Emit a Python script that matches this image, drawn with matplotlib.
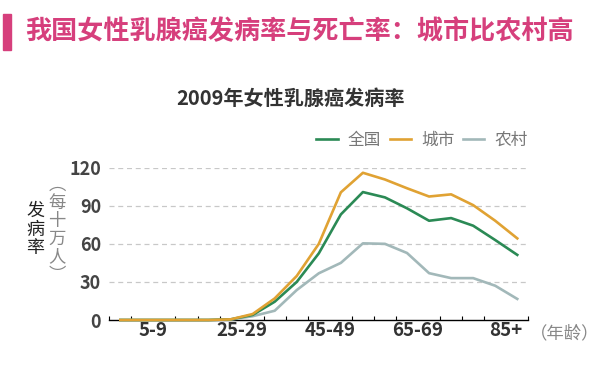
import numpy as np
import matplotlib.pyplot as plt

plt.rcParams['font.family'] = ['Noto Sans CJK SC', 'DejaVu Sans']

### Data (2009, per 100k)
age_groups = ["0", "1-4", "5-9", "10-14", "15-19", "20-24", "25-29", "30-34",
              "35-39", "40-44", "45-49", "50-54", "55-59", "60-64", "65-69",
              "70-74", "75-79", "80-84", "85+"]
national = [0, 0, 0, 0, 0, 0.5, 4, 14.4, 30, 52.5, 83.2, 100.8, 96.6, 88,
            78.2, 80.3, 74.3, 63, 51.3]
urban = [0, 0, 0, 0, 0, 0.5, 4.7, 17, 34.7, 60, 100.6, 116, 110.7, 103.8,
         97.3, 99, 90.5, 78.2, 64.3]
rural = [0, 0, 0, 0, 0, 0.3, 3, 7.3, 23.6, 36.8, 45, 60.4, 60, 52.8, 36.9,
         33, 33, 27, 16.6]
series_names = ["全国", "城市", "农村"]
tick_labels = ["5-9", "25-29", "45-49", "65-69", "85+"]
yticks = [0, 30, 60, 90, 120]

colors = ["#2b8a55", "#e0a233", "#a2b8b9"]
W, H = 600, 369

fig = plt.figure(figsize=(6, 3.69), dpi=100)
ax = fig.add_axes([109.3 / W, 49 / H, (528.3 - 109.3) / W, (201.3 - 49) / H])

x = np.arange(len(age_groups))
for vals, name, c, z in zip([national, urban, rural], series_names, colors, [4, 5, 3]):
    ax.plot(x, vals, color=c, lw=1.9, label=name, zorder=z, clip_on=False)

ax.set_xlim(-0.5, len(age_groups) - 0.5)
ax.set_ylim(0, 120)

# category boundary ticks
ax.set_xticks(np.arange(-0.5, len(age_groups)), minor=True)
ax.tick_params(axis='x', which='minor', direction='in', length=3, width=0.8, color='black')
ax.set_xticks([age_groups.index(l) - 0.5 for l in tick_labels])
ax.set_xticklabels(tick_labels, fontsize=13.5, fontweight='bold', color='#333333')
ax.tick_params(axis='x', which='major', length=0, pad=1)

ax.set_yticks(yticks)
ax.set_yticklabels([str(v) for v in yticks], fontsize=13, fontweight='bold', color='#444444')
ax.tick_params(axis='y', length=0, pad=6)
for v in yticks[1:]:
    ax.axhline(v, color='#c8c8c8', lw=0.9, ls=(0, (4, 3)), zorder=1)

for s in ['top', 'right', 'left']:
    ax.spines[s].set_visible(False)
ax.spines['bottom'].set_color('black')
ax.spines['bottom'].set_linewidth(1.0)

### Titles and labels
fig.patches.append(plt.Rectangle((3 / W, 1 - 50 / H), 8 / W, 36 / H,
                                 transform=fig.transFigure, color='#d63f7c'))
fig.text(25 / W, 1 - 32 / H, "我国女性乳腺癌发病率与死亡率：城市比农村高",
         fontsize=18.8, fontweight='bold', color='#d63f7c', va='center', ha='left')
fig.text(291 / W, 1 - 98 / H, "2009年女性乳腺癌发病率", fontsize=14.5,
         fontweight='bold', color='#333333', ha='center', va='center')

for i, ch in enumerate("发病率"):
    fig.text(35 / W, 1 - (211 + 18.7 * i) / H, ch, fontsize=13, color='#222222',
             ha='center', va='center')
for i, ch in enumerate(["︵", "每", "十", "万", "人", "︶"]):
    fig.text(57 / W, 1 - (185 + 18 * i) / H, ch, fontsize=12.5, color='#888888',
             ha='center', va='center')

fig.text(599 / W, 1 - 333 / H, "（年龄）", fontsize=12.5, color='#888888',
         ha='right', va='center')

leg = fig.legend(loc='center', bbox_to_anchor=(422 / W, 1 - 140 / H), ncol=3,
                 frameon=False, fontsize=12, handlelength=1.3, handletextpad=0.6,
                 columnspacing=0.5)
for t in leg.get_texts():
    t.set_color('#777777')

fig.savefig('out.png', dpi=100)
